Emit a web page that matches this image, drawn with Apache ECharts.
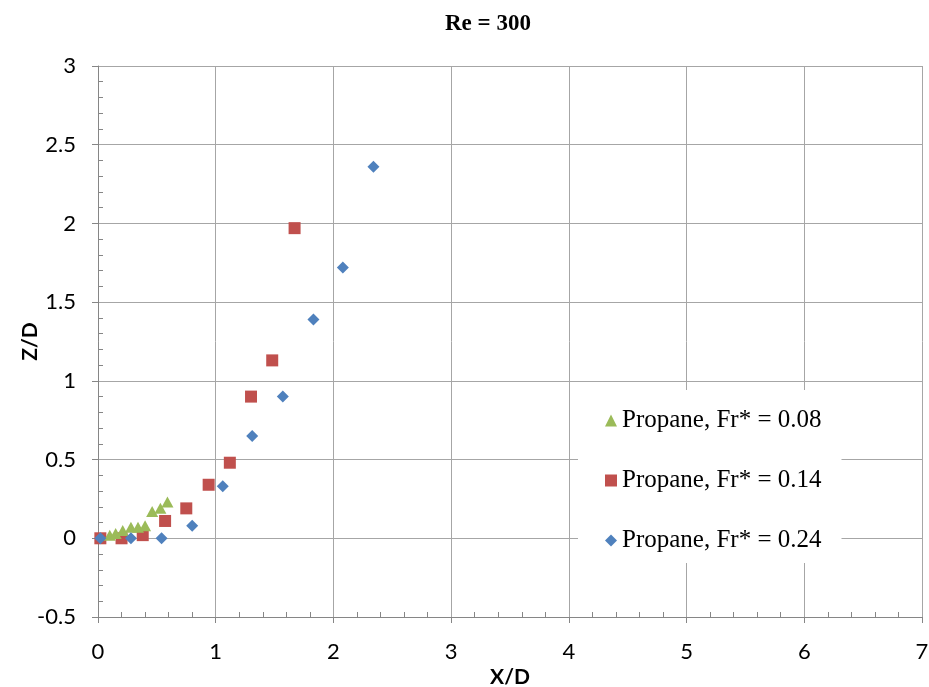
<!DOCTYPE html>
<html>
<head>
<meta charset="utf-8">
<title>Re = 300</title>
<script src="https://cdn.jsdelivr.net/npm/echarts@6/dist/echarts.min.js"></script>
<style>
  html, body { margin: 0; padding: 0; background: #fff; }
  #chart { width: 929px; height: 687px; }
</style>
</head>
<body>
<div id="chart"></div>
<script>
// Trajectory points Z/D vs X/D, Re = 300
const seriesNames = ['Propane, Fr* = 0.08', 'Propane, Fr* = 0.14', 'Propane, Fr* = 0.24'];

const fr008X = [0.10, 0.15, 0.21, 0.28, 0.34, 0.40, 0.46, 0.53, 0.59];
const fr008Y = [0.02, 0.03, 0.05, 0.07, 0.07, 0.08, 0.17, 0.19, 0.23];

const fr014X = [0.02, 0.20, 0.38, 0.57, 0.75, 0.94, 1.12, 1.30, 1.48, 1.67];
const fr014Y = [0.00, 0.00, 0.02, 0.11, 0.19, 0.34, 0.48, 0.90, 1.13, 1.97];

const fr024X = [0.02, 0.28, 0.54, 0.80, 1.06, 1.31, 1.57, 1.83, 2.08, 2.34];
const fr024Y = [0.00, 0.00, 0.00, 0.08, 0.33, 0.65, 0.90, 1.39, 1.72, 2.36];

const xTicks = [0, 1, 2, 3, 4, 5, 6, 7];
const yTicks = [-0.5, 0, 0.5, 1, 1.5, 2, 2.5, 3];

const pairs = (xs, ys) => xs.map((x, i) => [x, ys[i]]);

const labelFont = { fontFamily: 'Lato', fontSize: 22, color: '#000' };
const nameFont = { fontFamily: 'Lato', fontSize: 21, fontWeight: 'bold', color: '#000' };
const gridColor = '#a6a6a6';
const axisColor = '#868686';

const chart = echarts.init(document.getElementById('chart'), null, { renderer: 'canvas' });

chart.setOption({
  animation: false,
  backgroundColor: '#fff',
  title: {
    text: 'Re = 300',
    left: 440,
    top: 8,
    textStyle: { fontFamily: 'Liberation Serif', fontWeight: 'bold', fontSize: 23, color: '#000' }
  },
  grid: { left: 98, right: 7, top: 66, bottom: 70, outerBoundsMode: 'none', containLabel: false },
  legend: {
    orient: 'vertical',
    left: 578,
    top: 390,
    padding: [18, 20, 10, 27],
    itemGap: 35,
    itemWidth: 12,
    itemHeight: 12,
    backgroundColor: '#fff',
    textStyle: { fontFamily: 'Liberation Serif', fontSize: 25, color: '#000', lineHeight: 24 },
    data: [
      { name: seriesNames[0], icon: 'triangle' },
      { name: seriesNames[1], icon: 'rect' },
      { name: seriesNames[2], icon: 'diamond' }
    ]
  },
  xAxis: [{
    type: 'value',
    min: xTicks[0],
    max: xTicks[xTicks.length - 1],
    interval: 1,
    name: 'X/D',
    nameLocation: 'middle',
    nameGap: 50,
    nameMoveOverlap: false,
    nameTextStyle: nameFont,
    axisLine: { onZero: false, lineStyle: { color: axisColor, width: 1 } },
    axisTick: { show: true, length: 6, lineStyle: { color: axisColor } },
    axisLabel: Object.assign({ margin: 24 }, labelFont),
    splitLine: { show: true, lineStyle: { color: gridColor, width: 1 } }
  }, {
    // minor ticks drawn on the inner side of the bottom axis
    type: 'value',
    position: 'bottom',
    min: xTicks[0],
    max: xTicks[xTicks.length - 1],
    interval: 1,
    axisLine: { show: false, onZero: false },
    axisTick: { show: false, inside: true },
    minorTick: { show: true, splitNumber: 5, length: 5, lineStyle: { color: axisColor } },
    axisLabel: { show: false },
    splitLine: { show: false }
  }],
  yAxis: [{
    type: 'value',
    min: yTicks[0],
    max: yTicks[yTicks.length - 1],
    interval: 0.5,
    name: 'Z/D',
    nameLocation: 'middle',
    nameGap: 57,
    nameRotate: 90,
    nameMoveOverlap: false,
    nameTextStyle: nameFont,
    axisLine: { onZero: false, lineStyle: { color: axisColor, width: 1 } },
    axisTick: { show: true, length: 6, lineStyle: { color: axisColor } },
    axisLabel: Object.assign({ margin: 22 }, labelFont),
    splitLine: { show: true, lineStyle: { color: gridColor, width: 1 } }
  }, {
    // minor ticks drawn on the inner side of the left axis
    type: 'value',
    position: 'left',
    min: yTicks[0],
    max: yTicks[yTicks.length - 1],
    interval: 0.5,
    axisLine: { show: false, onZero: false },
    axisTick: { show: false, inside: true },
    minorTick: { show: true, splitNumber: 5, length: 5, lineStyle: { color: axisColor } },
    axisLabel: { show: false },
    splitLine: { show: false }
  }],
  series: [
    {
      name: seriesNames[0],
      type: 'scatter',
      symbol: 'triangle',
      symbolSize: [12, 11],
      itemStyle: { color: '#9bbb59', opacity: 1 },
      data: pairs(fr008X, fr008Y),
      z: 3
    },
    {
      name: seriesNames[1],
      type: 'scatter',
      symbol: 'rect',
      symbolSize: 12,
      itemStyle: { color: '#c0504d', opacity: 1 },
      data: pairs(fr014X, fr014Y),
      z: 2
    },
    {
      name: seriesNames[2],
      type: 'scatter',
      symbol: 'diamond',
      symbolSize: 12,
      itemStyle: { color: '#4f81bd', opacity: 1 },
      data: pairs(fr024X, fr024Y),
      z: 4
    }
  ]
});
</script>
</body>
</html>
